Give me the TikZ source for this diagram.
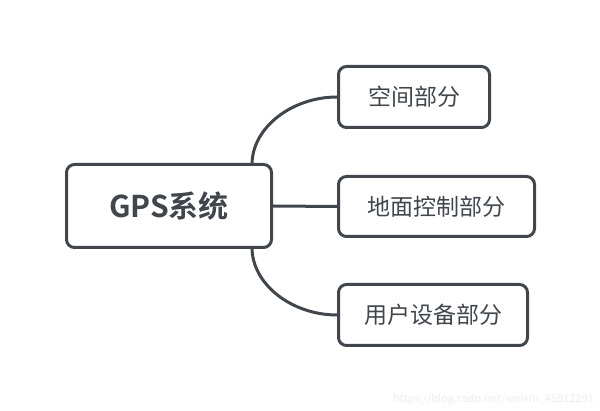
\documentclass[tikz,border=0pt]{standalone}
\usepackage{fontspec}
\setmainfont{Noto Sans CJK SC}
\newfontfamily\cjkbold{Noto Sans CJK SC Bold}
\definecolor{ink}{HTML}{41464D}
\definecolor{wm}{HTML}{EDEDED}
\begin{document}
\begin{tikzpicture}[x=1pt,y=-1pt,
  box/.style={draw=ink, line width=3pt, rounded corners=8pt, fill=white, text=ink, inner sep=0pt},
  link/.style={draw=ink, line width=3pt}]
\useasboundingbox (0,0) rectangle (600,411);
\node[box, minimum width=205pt, minimum height=83pt, font=\cjkbold\fontsize{30}{36}\selectfont] (root) at (169,206) {GPS系统};
\node[box, minimum width=151pt, minimum height=61pt, font=\fontsize{23}{28}\selectfont] (c1) at (414,97) {空间部分};
\node[box, minimum width=196pt, minimum height=60pt, font=\fontsize{23}{28}\selectfont] (c2) at (436.5,206.5) {地面控制部分};
\node[box, minimum width=189pt, minimum height=61pt, font=\fontsize{23}{28}\selectfont] (c3) at (433,315) {用户设备部分};
\coordinate (s1) at ([xshift=-21pt,yshift=-1.5pt]root.north east);
\coordinate (s3) at ([xshift=-21pt,yshift=1.5pt]root.south east);
\draw[link] (s1) .. controls ([yshift=37pt]s1) and ([xshift=-45pt]c1.west) .. (c1.west);
\draw[link] (root.east) -- (c2.west);
\draw[link] (s3) .. controls ([yshift=-37pt]s3) and ([xshift=-45pt]c3.west) .. (c3.west);
\node[text=wm, font=\fontsize{11}{13}\selectfont, anchor=east, inner sep=0pt] (wmk) at (594,399) {https://blog.csdn.net/weixin\_45912291};
\end{tikzpicture}
\end{document}
